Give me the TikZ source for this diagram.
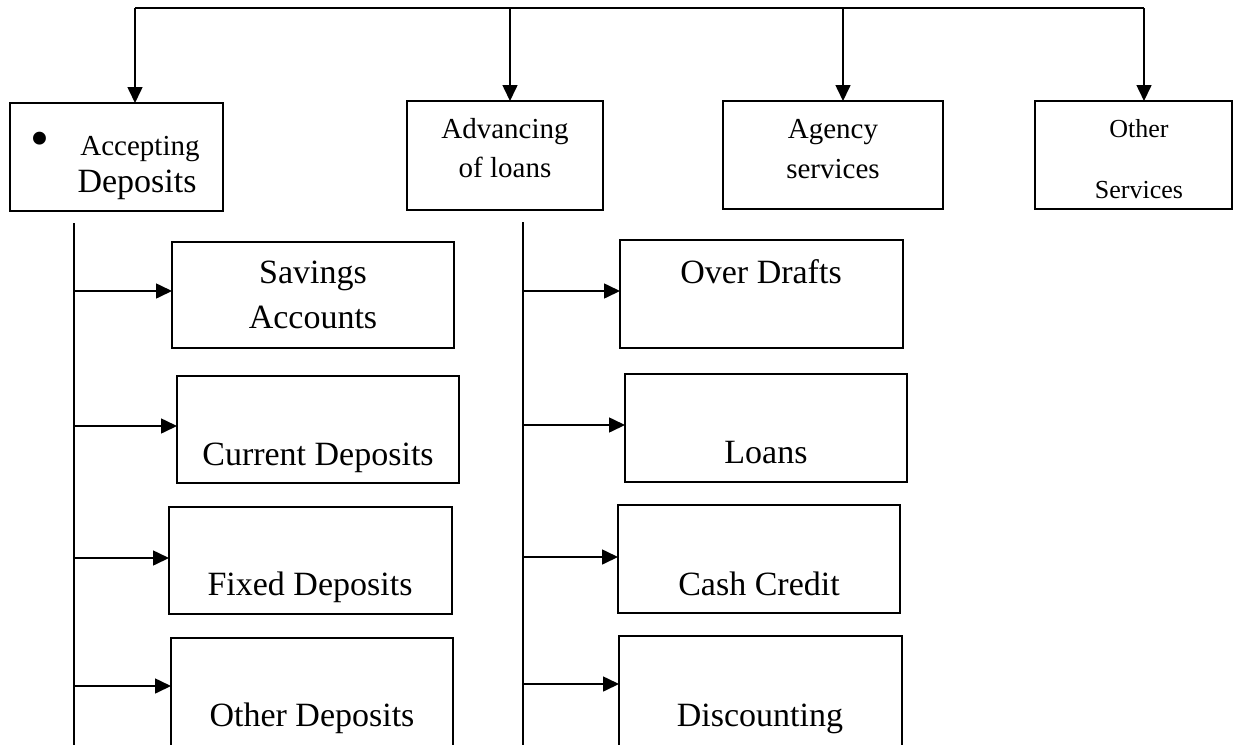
\documentclass[tikz,border=0pt]{standalone}
\usepackage{fontspec}
\setmainfont{Liberation Serif}
\usetikzlibrary{arrows.meta,positioning}

\tikzset{
  box/.style={draw, line width=1.7pt, inner sep=0pt, outer sep=0pt, anchor=north west},
  txt/.style={anchor=base, inner sep=0pt, font=\fontsize{34}{40}\selectfont},
  stxt/.style={anchor=base, inner sep=0pt, font=\fontsize{29}{34}\selectfont},
  otxt/.style={anchor=base, inner sep=0pt, font=\fontsize{26}{30}\selectfont},
  arr/.style={line width=1.6pt, -{Triangle[length=16pt,width=15pt]}},
}

\begin{document}
\begin{tikzpicture}[x=1pt,y=-1pt]

  \path[use as bounding box, clip] (0,0) rectangle (1233,744);

  % top row
  \node[box, minimum width=213pt, minimum height=108pt] (acc) at (10,103) {};
  \node[box, minimum width=196pt, minimum height=109pt] (adv) at (407,101) {};
  \node[box, minimum width=220pt, minimum height=108pt] (agn) at (723,101) {};
  \node[box, minimum width=197pt, minimum height=108pt] (oth) at (1035,101) {};

  \node[anchor=base, inner sep=0pt, font=\fontsize{54}{54}\selectfont] (bul) at (40,156) {•};
  \node[stxt] (acc1) at (140,155) {Accepting};
  \node[txt]  (acc2) at (137,192) {Deposits};
  \node[stxt] (adv1) at (505,138) {Advancing};
  \node[stxt] (adv2) at (505,177) {of loans};
  \node[stxt] (agn1) at (833,138) {Agency};
  \node[stxt] (agn2) at (833,178) {services};
  \node[otxt] (oth1) at (1139,137) {Other};
  \node[otxt] (oth2) at (1139,198) {Services};

  % deposits column
  \node[box, minimum width=282pt, minimum height=106pt] (sav) at (172,242) {};
  \node[box, minimum width=282pt, minimum height=107pt] (cur) at (177,376) {};
  \node[box, minimum width=283pt, minimum height=107pt] (fix) at (169,507) {};
  \node[box, minimum width=282pt, minimum height=112pt] (odp) at (171,638) {};

  \node[txt] (sav1) at (313,283) {Savings};
  \node[txt] (sav2) at (313,328) {Accounts};
  \node[txt] (cur1) at (318,465) {Current Deposits};
  \node[txt] (fix1) at (310,595) {Fixed Deposits};
  \node[txt] (odp1) at (312,726) {Other Deposits};

  % loans column
  \node[box, minimum width=283pt, minimum height=108pt] (ovd) at (620,240) {};
  \node[box, minimum width=282pt, minimum height=108pt] (lns) at (625,374) {};
  \node[box, minimum width=282pt, minimum height=108pt] (csh) at (618,505) {};
  \node[box, minimum width=283pt, minimum height=114pt] (dsc) at (619,636) {};

  \node[txt] (ovd1) at (761,283) {Over Drafts};
  \node[txt] (lns1) at (766,463) {Loans};
  \node[txt] (csh1) at (759,595) {Cash Credit};
  \node[txt] (dsc1) at (760,726) {Discounting};

  % connectors
  \coordinate (h1) at (135,8);
  \coordinate (h2) at (510,8);
  \coordinate (h3) at (843,8);
  \coordinate (h4) at (1144,8);
  \draw[line width=1.6pt] (h1) -- (h4);
  \draw[arr] (h1) -- (h1 |- acc.north);
  \draw[arr] (h2) -- (h2 |- adv.north);
  \draw[arr] (h3) -- (h3 |- agn.north);
  \draw[arr] (h4) -- (h4 |- oth.north);

  \coordinate (lt) at (74,223);
  \coordinate (lb) at (74,750);
  \coordinate (rt) at (523,222);
  \coordinate (rb) at (523,750);
  \draw[line width=1.6pt] (lt) -- (lb);
  \draw[line width=1.6pt] (rt) -- (rb);

  \foreach \n/\y in {sav/291,cur/426,fix/558,odp/686}
    \draw[arr] (lt |- 0,\y) -- (\n.west |- 0,\y);
  \foreach \n/\y in {ovd/291,lns/425,csh/557,dsc/684}
    \draw[arr] (rt |- 0,\y) -- (\n.west |- 0,\y);

\end{tikzpicture}
\end{document}
